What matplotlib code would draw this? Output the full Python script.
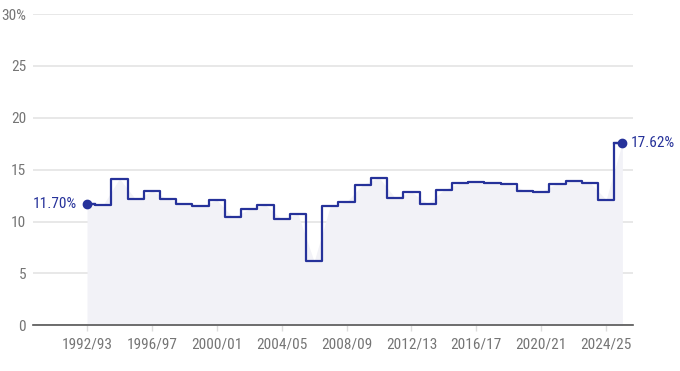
import numpy as np
import matplotlib.pyplot as plt
from matplotlib import font_manager

# fiscal years and values (%)
years = ['1992/93', '1993/94', '1994/95', '1995/96', '1996/97', '1997/98', '1998/99',
         '1999/00', '2000/01', '2001/02', '2002/03', '2003/04', '2004/05', '2005/06',
         '2006/07', '2007/08', '2008/09', '2009/10', '2010/11', '2011/12', '2012/13',
         '2013/14', '2014/15', '2015/16', '2016/17', '2017/18', '2018/19', '2019/20',
         '2020/21', '2021/22', '2022/23', '2023/24', '2024/25', '2025/26']
values = [11.70, 11.62, 14.15, 12.15, 12.96, 12.15, 11.73, 11.46, 12.08, 10.41,
          11.19, 11.60, 10.25, 10.73, 6.16, 11.54, 11.90, 13.57, 14.25, 12.28,
          12.86, 11.73, 13.06, 13.73, 13.78, 13.70, 13.67, 12.99, 12.89, 13.67,
          13.96, 13.76, 12.12, 17.62]
yticks = [0, 5, 10, 15, 20, 25, 30]
ytick_labels = ['0', '5', '10', '15', '20', '25', '30%']

navy = '#26329a'
grey = '#757575'

# look for a narrow font, the reference uses a condensed face
fp = None
for f in font_manager.fontManager.ttflist:
    n = (f.name + ' ' + f.fname).lower()
    if ('narrow' in n or 'condensed' in n) and 'bold' not in n and 'italic' not in n \
            and 'oblique' not in n:
        if fp is None or 'liberation' in n or 'roboto' in n:
            fp = f.fname
if fp:
    font = font_manager.FontProperties(fname=fp, size=11)
else:
    font = font_manager.FontProperties(family='DejaVu Sans', stretch='condensed', size=11)

fig = plt.figure(figsize=(6.8, 3.71), dpi=100)
ax = fig.add_axes([0.0485, 0.123, 0.8825, 0.839])

x = np.arange(len(years))
ax.fill_between(x, 0, values, color='#f2f2f7', lw=0, zorder=1)
ax.step(x, values, where='mid', color=navy, lw=1.6, zorder=3)
# mid steps leave half a step at each end; draw them explicitly
ax.plot([x[0], x[0] + 0.5], [values[0], values[0]], color=navy, lw=1.6, zorder=3)
ax.plot([x[-1] - 0.5, x[-1]], [values[-1], values[-1]], color=navy, lw=1.6, zorder=3)
ax.plot([x[0], x[-1]], [values[0], values[-1]], 'o', color=navy, ms=6, zorder=4)

ax.annotate('%.2f%%' % values[0], (x[0], values[0]), xytext=(-7, 0),
            textcoords='offset points', ha='right', va='center', color=navy,
            fontproperties=font)
ax.annotate('%.2f%%' % values[-1], (x[-1], values[-1]), xytext=(6, 0),
            textcoords='offset points', ha='left', va='center', color=navy,
            fontproperties=font)

ax.set_ylim(0, 30)
ax.set_xlim(-3.33, 33.66)
ax.set_yticks(yticks)
ax.set_yticklabels(ytick_labels, fontproperties=font)
ax.set_xticks(x[::4])
ax.set_xticklabels(years[::4], fontproperties=font)
ax.grid(axis='y', color='#e6e6e6', lw=1.3, zorder=0)
ax.set_axisbelow(True)

for s in ['top', 'right', 'left']:
    ax.spines[s].set_visible(False)
ax.spines['bottom'].set_color('#555555')
ax.spines['bottom'].set_linewidth(1.2)
ax.spines['bottom'].set_zorder(5)

ax.tick_params(axis='y', length=0, pad=5, labelcolor=grey)
ax.tick_params(axis='x', length=4, width=1, color='#dddddd', pad=5, labelcolor=grey)

fig.savefig('out.png', dpi=100)
